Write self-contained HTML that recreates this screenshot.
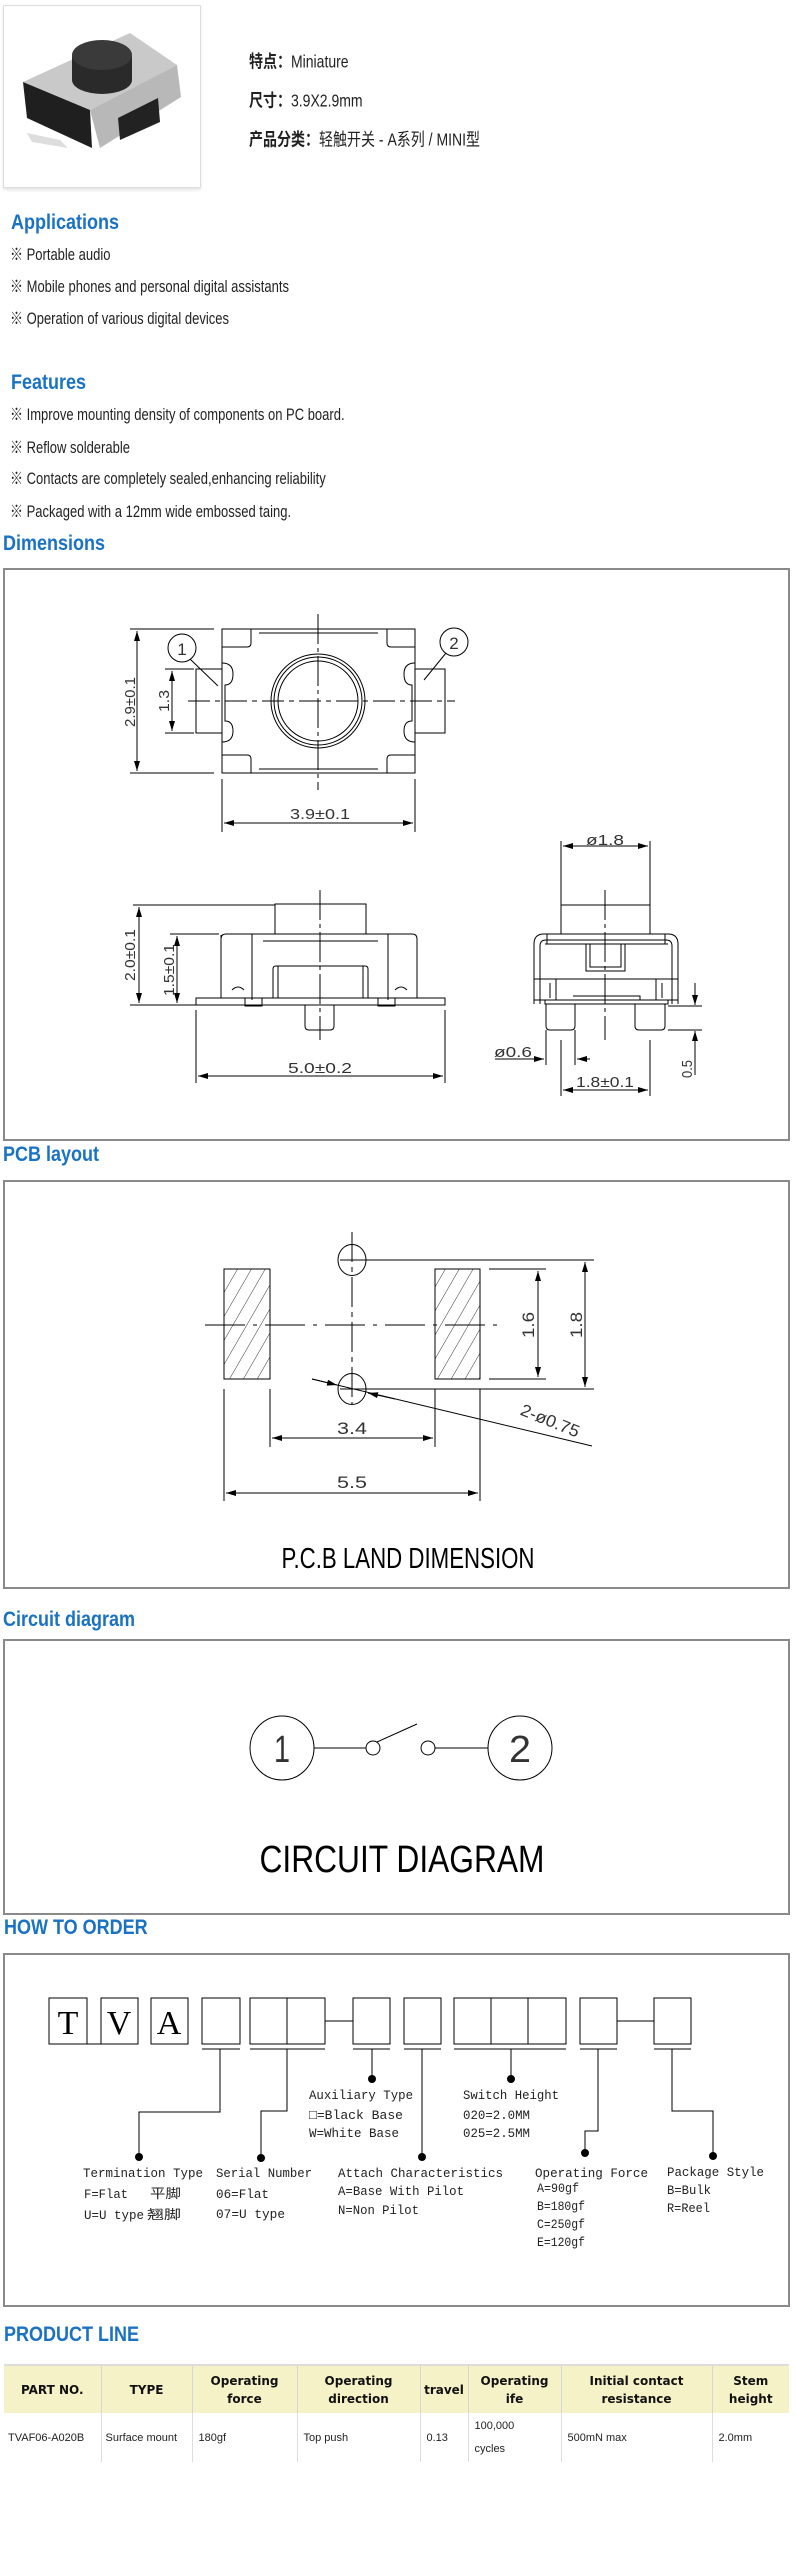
<!DOCTYPE html>
<html><head><meta charset="utf-8">
<style>
html,body{margin:0;padding:0;background:#fff;}
body{width:796px;height:2559px;position:relative;overflow:hidden;font-family:"Liberation Sans","Noto Sans CJK SC",sans-serif;color:#222;}
.a{position:absolute;white-space:nowrap;}
.h{position:absolute;white-space:nowrap;color:#1a72c4;font-weight:bold;font-size:18px;line-height:20px;transform:scaleY(1.2);transform-origin:left center;}
.t{position:absolute;white-space:nowrap;font-size:13px;line-height:16px;transform:scaleY(1.25);transform-origin:left center;}
.box{position:absolute;left:3px;width:783px;border:2px solid #8a8a8a;}
table{position:absolute;left:4px;top:2364px;width:785px;table-layout:fixed;border-collapse:collapse;font-family:"DejaVu Sans",sans-serif;}
th{background:#f6f2c8;font-size:12px;font-weight:bold;height:47px;line-height:18px;padding:0;border-left:1px solid #d6d6d6;border-top:2px solid #ddd;color:#111;}
td{font-size:11px;height:49px;padding:0 0 0 6px;border-left:1px solid #ddd;color:#222;font-family:"Liberation Sans",sans-serif;white-space:nowrap;overflow:hidden;}
th:first-child,td:first-child{border-left:none;}
</style></head><body>

<div class="a" style="left:3px;top:5px;width:196px;height:181px;border:1px solid #ddd;box-shadow:0 2px 3px #e4e4e4;"></div>
<svg class="a" style="left:0;top:0" width="210" height="200">
<polygon points="23,82 130,33 177,65 90,110" fill="#c9c9c9"/>
<polygon points="23,82 90,110 92,148 27,118" fill="#1f1f1f"/>
<polygon points="90,110 177,65 181,97 100,148" fill="#b8b8b8"/>
<polygon points="118,118 158,98 160,122 120,140" fill="#222"/>
<polygon points="27,133 60,140 68,148 32,142" fill="#ddd"/>
<path d="M72,55 L72,80 A30,14 0 0 0 132,80 L132,55 Z" fill="#2a2a2a"/>
<ellipse cx="102" cy="55" rx="30" ry="15" fill="#3a3a3a"/>
</svg>
<div class="t" style="left:249px;top:53px;font-size:14px;"><b>特点：</b>Miniature</div>
<div class="t" style="left:249px;top:92px;font-size:14px;"><b>尺寸：</b>3.9X2.9mm</div>
<div class="t" style="left:249px;top:131px;font-size:14px;"><b>产品分类：</b>轻触开关 - A系列 / MINI型</div>

<div class="h" style="left:11px;top:212px;">Applications</div>
<div class="t" style="left:10px;top:247px;">※ Portable audio</div>
<div class="t" style="left:10px;top:279px;">※ Mobile phones and personal digital assistants</div>
<div class="t" style="left:10px;top:311px;">※ Operation of various digital devices</div>

<div class="h" style="left:11px;top:372px;">Features</div>
<div class="t" style="left:10px;top:407px;">※ Improve mounting density of components on PC board.</div>
<div class="t" style="left:10px;top:440px;">※ Reflow solderable</div>
<div class="t" style="left:10px;top:471px;">※ Contacts are completely sealed,enhancing reliability</div>
<div class="t" style="left:10px;top:504px;">※ Packaged with a 12mm wide embossed taing.</div>

<div class="h" style="left:3px;top:533px;">Dimensions</div>
<div class="box" style="top:568px;height:569px;"></div>
<div class="h" style="left:3px;top:1144px;">PCB layout</div>
<div class="box" style="top:1180px;height:405px;"></div>
<div class="h" style="left:3px;top:1609px;">Circuit diagram</div>
<div class="box" style="top:1639px;height:272px;"></div>
<div class="h" style="left:4px;top:1917px;">HOW TO ORDER</div>
<div class="box" style="top:1953px;height:350px;"></div>
<div class="h" style="left:4px;top:2324px;">PRODUCT LINE</div>

<svg class="a" style="left:0;top:0" width="796" height="2559" viewBox="0 0 796 2559">
<defs>
<marker id="ar" viewBox="0 0 10 6" refX="10" refY="3" markerWidth="10" markerHeight="6" markerUnits="userSpaceOnUse" orient="auto-start-reverse"><path d="M0,0 L10,3 L0,6 Z" fill="#000"/></marker>
<pattern id="hat" width="12" height="12" patternUnits="userSpaceOnUse" patternTransform="rotate(30)"><line x1="0" y1="0" x2="0" y2="12" stroke="#000" stroke-width="0.8"/></pattern>
</defs>
<g fill="none" stroke="#000" stroke-width="1">
<rect x="222" y="629" width="193" height="144"/>
<path d="M222,647 H247 Q251,647 251,643 V629 M387,629 V643 Q387,647 391,647 H415 M222,755 H247 Q251,755 251,759 V773 M387,773 V759 Q387,755 391,755 H415"/>
<path d="M259,633 H378 M259,769 H378"/>
<path d="M222,663 Q233,663 233,674 Q233,685 225,685 V721 Q233,721 233,731 Q233,742 222,742"/>
<path d="M415,663 Q404,663 404,674 Q404,685 412,685 V721 Q404,721 404,731 Q404,742 415,742"/>
<path d="M222,669 H196 V733 H222 M415,669 H445 V733 H415"/>
<circle cx="318" cy="701" r="47"/><circle cx="318" cy="701" r="44"/><circle cx="318" cy="701" r="40"/>
<line x1="318" y1="614" x2="318" y2="790" stroke-dasharray="30,4,4,4"/>
<line x1="188" y1="701" x2="455" y2="701" stroke-dasharray="22,5,5,5"/>
<path d="M130,629 H214 M130,773 H214"/>
<line x1="137" y1="631" x2="137" y2="771" marker-start="url(#ar)" marker-end="url(#ar)"/>
<path d="M165,669 H194 M165,733 H194"/>
<line x1="172" y1="671" x2="172" y2="731" marker-start="url(#ar)" marker-end="url(#ar)"/>
<circle cx="182" cy="648" r="14"/><circle cx="454" cy="642" r="14"/>
<path d="M190,659 L218,686 M446,653 L424,680"/>
<path d="M222,779 V832 M415,779 V832"/>
<line x1="224" y1="823" x2="413" y2="823" marker-start="url(#ar)" marker-end="url(#ar)"/>
<path d="M133,905 H275 M170,934 H219"/>
<rect x="275" y="904" width="91" height="30"/>
<path d="M221,998 V939 Q221,934 226,934 H412 Q417,934 417,939 V998"/>
<path d="M221,935 V998 M252,934 V1000 M388,934 V1000 M263,941 H378"/>
<path d="M273,998 V969 Q273,966 276,966 H365 Q368,966 368,969 V998 M278,966 V998 M363,966 V998"/>
<path d="M232,990 Q238,984 244,990 M395,990 Q401,984 407,990"/>
<path d="M196,998 H445 V1005 H196 Z"/>
<path d="M245,998 V1006 H262 V998 M378,998 V1006 H395 V998"/>
<path d="M305,1005 V1026 Q305,1030 309,1030 H330 Q334,1030 334,1026 V1005"/>
<line x1="320" y1="890" x2="320" y2="1040" stroke-dasharray="30,4,4,4"/>
<line x1="139" y1="907" x2="139" y2="1003" marker-start="url(#ar)" marker-end="url(#ar)"/>
<line x1="177" y1="936" x2="177" y2="1003" marker-start="url(#ar)" marker-end="url(#ar)"/>
<path d="M130,1005 H196"/>
<path d="M196,1010 V1083 M445,1010 V1083"/>
<line x1="198" y1="1076" x2="443" y2="1076" marker-start="url(#ar)" marker-end="url(#ar)"/>
<rect x="561" y="905" width="89" height="29"/>
<path d="M534,1004 V944 Q534,934 544,934 H668 Q678,934 678,944 V1004"/>
<path d="M540,1004 V946 Q540,940 546,940 H666 Q672,940 672,946 V1004"/>
<path d="M545,944 H668 M547,934 V944 M665,934 V944"/>
<path d="M586,944 V971 H625 V944 M590,944 V967 H621 V944"/>
<path d="M534,979 H678 M534,1000 H678 M556,979 V1000 M656,979 V1000 M550,983 V998 M662,983 V998"/>
<path d="M545,1000 V1004 H668 V1000 M573,996 H640 V1000"/>
<path d="M546,1004 V1026 Q546,1030 550,1030 H571 Q575,1030 575,1026 V1004 M635,1004 V1026 Q635,1030 639,1030 H661 Q665,1030 665,1026 V1004"/>
<line x1="605" y1="890" x2="605" y2="1040" stroke-dasharray="30,4,4,4"/>
<path d="M561,841 V905 M650,841 V905"/>
<line x1="563" y1="846" x2="648" y2="846" marker-start="url(#ar)" marker-end="url(#ar)"/>
<path d="M546,1030 V1065 M575,1030 V1065 M561,1040 V1096 M650,1040 V1096"/>
<line x1="495" y1="1059" x2="544" y2="1059" marker-end="url(#ar)"/>
<line x1="590" y1="1059" x2="577" y2="1059" marker-end="url(#ar)"/>
<line x1="563" y1="1090" x2="648" y2="1090" marker-start="url(#ar)" marker-end="url(#ar)"/>
<path d="M668,1006 H702 M668,1030 H702"/>
<line x1="695" y1="983" x2="695" y2="1005" marker-end="url(#ar)"/>
<line x1="695" y1="1075" x2="695" y2="1031" marker-end="url(#ar)"/>
<rect x="224" y="1269" width="46" height="110" fill="url(#hat)"/>
<rect x="435" y="1269" width="45" height="110" fill="url(#hat)"/>
<ellipse cx="352" cy="1260" rx="14" ry="15.5"/><ellipse cx="352" cy="1389" rx="14" ry="15.5"/>
<line x1="352" y1="1232" x2="352" y2="1405" stroke-dasharray="30,5,5,5"/>
<line x1="205" y1="1325" x2="498" y2="1325" stroke-dasharray="40,8,4,8"/>
<path d="M489,1269 H546 M489,1379 H546"/>
<line x1="538" y1="1271" x2="538" y2="1377" marker-start="url(#ar)" marker-end="url(#ar)"/>
<path d="M340,1260 H594 M340,1389 H594"/>
<line x1="585" y1="1262" x2="585" y2="1387" marker-start="url(#ar)" marker-end="url(#ar)"/>
<path d="M270,1389 V1447 M435,1389 V1447 M224,1389 V1501 M480,1389 V1501"/>
<line x1="272" y1="1438" x2="433" y2="1438" marker-start="url(#ar)" marker-end="url(#ar)"/>
<line x1="226" y1="1493" x2="478" y2="1493" marker-start="url(#ar)" marker-end="url(#ar)"/>
<line x1="312" y1="1379" x2="592" y2="1446"/>
<line x1="312" y1="1379" x2="337" y2="1385" marker-end="url(#ar)"/>
<line x1="395" y1="1399" x2="368" y2="1393" marker-end="url(#ar)"/>
<circle cx="282" cy="1748" r="32"/><circle cx="520" cy="1748" r="32"/>
<circle cx="373" cy="1748" r="7"/><circle cx="428" cy="1748" r="7"/>
<path d="M314,1748 H366 M435,1748 H488 M377,1742 L417,1724"/>
<rect x="49" y="1998" width="38" height="46"/><rect x="101" y="1998" width="37" height="46"/><rect x="151" y="1998" width="37" height="46"/>
<path d="M87,2044 H101"/>
<rect x="202" y="1998" width="38" height="46"/>
<rect x="250" y="1998" width="75" height="46"/><path d="M287,1998 V2044"/>
<path d="M325,2021 H353 M617,2021 H654"/>
<rect x="353" y="1998" width="37" height="46"/>
<rect x="404" y="1998" width="37" height="46"/>
<rect x="454" y="1998" width="112" height="46"/><path d="M491,1998 V2044 M528,1998 V2044"/>
<rect x="580" y="1998" width="37" height="46"/>
<rect x="654" y="1998" width="37" height="46"/>
<path d="M202,2049 H240 M250,2049 H325 M353,2049 H390 M404,2049 H441 M454,2049 H566 M580,2049 H617 M654,2049 H691"/>
<path d="M220,2049 V2112 H139 V2157 M287,2049 V2111 H261 V2158 M372,2049 V2079 M422,2049 V2157 M511,2049 V2079 M598,2049 V2131 H585 V2153 M672,2049 V2111 H713 V2156"/>
</g>
<g fill="#000">
<circle cx="139" cy="2157" r="4"/><circle cx="261" cy="2158" r="4"/><circle cx="372" cy="2079" r="4"/><circle cx="422" cy="2157" r="4"/><circle cx="511" cy="2079" r="4"/><circle cx="585" cy="2153" r="4"/><circle cx="713" cy="2156" r="4"/>
</g>
<g font-family="Liberation Sans,sans-serif" fill="#333" font-size="15" text-anchor="middle">
<text x="182" y="655" font-size="17">1</text><text x="454" y="649" font-size="17">2</text>
<text transform="translate(135,702) rotate(-90)" textLength="50" lengthAdjust="spacingAndGlyphs">2.9±0.1</text>
<text transform="translate(169,701) rotate(-90)" textLength="22" lengthAdjust="spacingAndGlyphs">1.3</text>
<text x="320" y="819" textLength="60" lengthAdjust="spacingAndGlyphs">3.9±0.1</text>
<text transform="translate(135,955) rotate(-90)" textLength="52" lengthAdjust="spacingAndGlyphs">2.0±0.1</text>
<text transform="translate(174,970) rotate(-90)" textLength="52" lengthAdjust="spacingAndGlyphs">1.5±0.1</text>
<text x="320" y="1073" textLength="64" lengthAdjust="spacingAndGlyphs">5.0±0.2</text>
<text x="605" y="845" textLength="38" lengthAdjust="spacingAndGlyphs">ø1.8</text>
<text x="513" y="1057" textLength="38" lengthAdjust="spacingAndGlyphs">ø0.6</text>
<text x="605" y="1087" textLength="58" lengthAdjust="spacingAndGlyphs">1.8±0.1</text>
<text transform="translate(692,1069) rotate(-90)" textLength="18" lengthAdjust="spacingAndGlyphs">0.5</text>
<text transform="translate(534,1325) rotate(-90)" font-size="17" textLength="26" lengthAdjust="spacingAndGlyphs">1.6</text>
<text transform="translate(582,1325) rotate(-90)" font-size="17" textLength="26" lengthAdjust="spacingAndGlyphs">1.8</text>
<text x="352" y="1434" font-size="17" textLength="30" lengthAdjust="spacingAndGlyphs">3.4</text>
<text x="352" y="1488" font-size="17" textLength="30" lengthAdjust="spacingAndGlyphs">5.5</text>
<text transform="translate(548,1426) rotate(22)" font-size="17" textLength="62" lengthAdjust="spacingAndGlyphs">2-ø0.75</text>
<text x="408" y="1568" font-size="29" fill="#000" textLength="253" lengthAdjust="spacingAndGlyphs">P.C.B LAND DIMENSION</text>
<text x="402" y="1872" font-size="38" fill="#000" textLength="285" lengthAdjust="spacingAndGlyphs">CIRCUIT DIAGRAM</text>
<text x="282" y="1762" font-size="38" textLength="16" lengthAdjust="spacingAndGlyphs">1</text>
<text x="520" y="1762" font-size="38" textLength="22" lengthAdjust="spacingAndGlyphs">2</text>
</g>
<g font-family="Liberation Serif,serif" fill="#000" font-size="34" text-anchor="middle">
<text x="68" y="2034">T</text><text x="119" y="2034">V</text><text x="169" y="2034">A</text>
</g>
<g font-family="Liberation Mono,'Noto Sans CJK SC',monospace" fill="#222" font-size="13">
<text x="309" y="2099" textLength="104" lengthAdjust="spacingAndGlyphs">Auxiliary Type</text>
<text x="309" y="2119" textLength="94" lengthAdjust="spacingAndGlyphs">□=Black Base</text>
<text x="309" y="2137" textLength="90" lengthAdjust="spacingAndGlyphs">W=White Base</text>
<text x="463" y="2099" textLength="96" lengthAdjust="spacingAndGlyphs">Switch Height</text>
<text x="463" y="2119" textLength="67" lengthAdjust="spacingAndGlyphs">020=2.0MM</text>
<text x="463" y="2137" textLength="67" lengthAdjust="spacingAndGlyphs">025=2.5MM</text>
<text x="83" y="2177" textLength="120" lengthAdjust="spacingAndGlyphs">Termination Type</text>
<text x="84" y="2198" textLength="44" lengthAdjust="spacingAndGlyphs">F=Flat</text>
<text x="150" y="2198" textLength="31" lengthAdjust="spacingAndGlyphs">平脚</text>
<text x="84" y="2219" textLength="60" lengthAdjust="spacingAndGlyphs">U=U type</text>
<text x="147" y="2219" textLength="34" lengthAdjust="spacingAndGlyphs">翘脚</text>
<text x="216" y="2177" textLength="96" lengthAdjust="spacingAndGlyphs">Serial Number</text>
<text x="216" y="2198" textLength="53" lengthAdjust="spacingAndGlyphs">06=Flat</text>
<text x="216" y="2218" textLength="69" lengthAdjust="spacingAndGlyphs">07=U type</text>
<text x="338" y="2177" textLength="165" lengthAdjust="spacingAndGlyphs">Attach Characteristics</text>
<text x="338" y="2195" textLength="126" lengthAdjust="spacingAndGlyphs">A=Base With Pilot</text>
<text x="338" y="2214" textLength="81" lengthAdjust="spacingAndGlyphs">N=Non Pilot</text>
<text x="535" y="2177" textLength="113" lengthAdjust="spacingAndGlyphs">Operating Force</text>
<text x="537" y="2192" textLength="42" lengthAdjust="spacingAndGlyphs">A=90gf</text>
<text x="537" y="2210" textLength="48" lengthAdjust="spacingAndGlyphs">B=180gf</text>
<text x="537" y="2228" textLength="48" lengthAdjust="spacingAndGlyphs">C=250gf</text>
<text x="537" y="2246" textLength="48" lengthAdjust="spacingAndGlyphs">E=120gf</text>
<text x="667" y="2176" textLength="97" lengthAdjust="spacingAndGlyphs">Package Style</text>
<text x="667" y="2194" textLength="44" lengthAdjust="spacingAndGlyphs">B=Bulk</text>
<text x="667" y="2212" textLength="43" lengthAdjust="spacingAndGlyphs">R=Reel</text>
</g>
</svg>

<table>
<colgroup><col style="width:97px"><col style="width:91px"><col style="width:105px"><col style="width:123px"><col style="width:48px"><col style="width:93px"><col style="width:151px"><col style="width:77px"></colgroup>
<tr>
<th>PART NO.</th><th>TYPE</th><th>Operating<br>force</th><th>Operating<br>direction</th><th>travel</th><th>Operating<br>ife</th><th>Initial contact<br>resistance</th><th>Stem<br>height</th>
</tr>
<tr>
<td style="padding-left:4px">TVAF06-A020B</td><td style="padding-left:4px">Surface mount</td><td>180gf</td><td>Top push</td><td>0.13</td><td style="line-height:23px">100,000<br>cycles</td><td>500mN max</td><td>2.0mm</td>
</tr>
</table>
</body></html>
